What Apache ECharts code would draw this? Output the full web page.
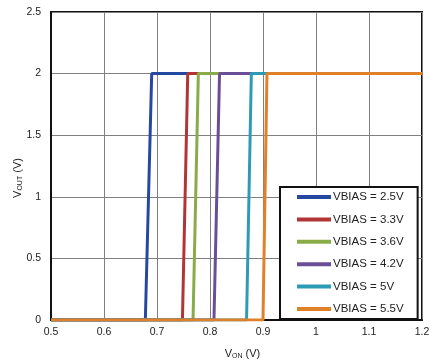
<!DOCTYPE html>
<html>
<head>
<meta charset="utf-8">
<script src="https://cdn.jsdelivr.net/npm/echarts@6/dist/echarts.min.js"></script>
<style>
  html, body { margin: 0; padding: 0; background: #fff; }
  #chart { width: 430px; height: 360px; }
</style>
</head>
<body>
<div id="chart"></div>
<script>
// Output switching curves: VOUT steps from 0 V to 2 V as VON crosses the threshold
const seriesNames = ['VBIAS = 2.5V', 'VBIAS = 3.3V', 'VBIAS = 3.6V', 'VBIAS = 4.2V', 'VBIAS = 5V', 'VBIAS = 5.5V'];
const seriesColors = ['#2549a0', '#b23535', '#8aac48', '#6a4f96', '#2e9bb5', '#e0812a'];
// VON where each curve leaves 0 V and where it reaches 2 V
const edgeStartVon = [0.678, 0.748, 0.768, 0.8075, 0.869, 0.900];
const edgeEndVon = [0.690, 0.758, 0.778, 0.818, 0.878, 0.9075];
const vonMin = 0.5;
const vonMax = 1.2;
const voutLow = 0;
const voutHigh = 2;

const chart = echarts.init(document.getElementById('chart'));
const font = 'Liberation Sans, Arial, sans-serif';

const series = seriesNames.map((name, i) => ({
  name: name,
  type: 'line',
  showSymbol: false,
  symbol: 'none',
  lineStyle: { width: 3, color: seriesColors[i] },
  itemStyle: { color: seriesColors[i] },
  data: [
    [vonMin, voutLow],
    [edgeStartVon[i], voutLow],
    [edgeEndVon[i], voutHigh],
    [vonMax, voutHigh]
  ],
  animation: false
}));

chart.setOption({
  animation: false,
  grid: {
    left: 51, top: 12, right: 8, bottom: 40,
    outerBoundsMode: 'none',
    containLabel: false,
    show: true, borderColor: '#111', borderWidth: 2
  },
  xAxis: {
    type: 'value', min: 0.5, max: 1.2, interval: 0.1,
    name: '{v|V}{s|ON}{v| (V)}',
    nameLocation: 'middle', nameGap: 28,
    nameMoveOverlap: false,
    nameTextStyle: {
      padding: [0, 0, 0, 12],
      rich: {
        v: { fontFamily: font, fontSize: 11, color: '#222' },
        s: { fontFamily: font, fontSize: 7, color: '#222', padding: [5, 0, 0, 0] }
      }
    },
    axisLine: { show: true, lineStyle: { color: '#111', width: 2 } },
    axisTick: { show: false },
    axisLabel: {
      fontFamily: font, fontSize: 10.5, color: '#222', margin: 7,
      formatter: v => String(Math.round(v * 10) / 10)
    },
    splitLine: { show: true, lineStyle: { color: '#808080', width: 1 } }
  },
  yAxis: {
    type: 'value', min: 0, max: 2.5, interval: 0.5,
    name: '{v|V}{s|OUT}{v| (V)}',
    nameLocation: 'middle', nameGap: 27,
    nameMoveOverlap: false,
    nameTextStyle: {
      padding: [0, 24, 0, 0],
      rich: {
        v: { fontFamily: font, fontSize: 11, color: '#222' },
        s: { fontFamily: font, fontSize: 7, color: '#222', padding: [5, 0, 0, 0] }
      }
    },
    axisLine: { show: true, lineStyle: { color: '#111', width: 2 } },
    axisTick: { show: false },
    axisLabel: { fontFamily: font, fontSize: 10.5, color: '#222', margin: 10 },
    splitLine: { show: true, lineStyle: { color: '#808080', width: 1 } }
  },
  legend: {
    orient: 'vertical',
    left: 280, top: 187,
    padding: [3, 14, 3, 17],
    itemGap: 8.4,
    itemWidth: 34, itemHeight: 4,
    icon: 'rect',
    backgroundColor: '#fff',
    borderColor: '#111', borderWidth: 2, borderRadius: 0,
    textStyle: { fontFamily: font, fontSize: 11.5, color: '#222', lineHeight: 14, padding: [0, 0, 0, -3] },
    data: seriesNames
  },
  series: series
});
</script>
</body>
</html>
